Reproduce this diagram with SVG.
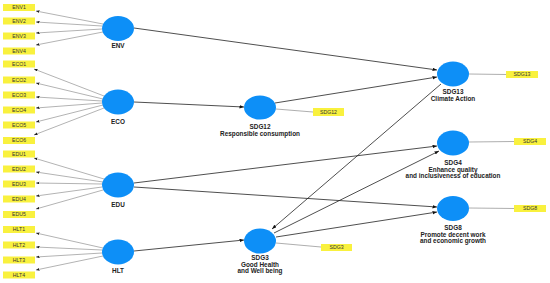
<svg xmlns="http://www.w3.org/2000/svg" width="550" height="283" viewBox="0 0 550 283">
<style>
.lat{fill:#0d8ff7}
.ind{fill:#f9f13e}
.it{font-family:"Liberation Sans",Arial,sans-serif;font-size:5.2px;fill:#333;text-anchor:middle}
.lb{font-family:"Liberation Sans",Arial,sans-serif;font-size:6.4px;font-weight:bold;fill:#222;text-anchor:middle}
.str{stroke:#222;stroke-width:0.8;fill:none;marker-end:url(#ah)}
.il{stroke:#666;stroke-width:0.5;fill:none;marker-end:url(#ahs)}
.ld{stroke:#777;stroke-width:0.6;fill:none}
</style>
<defs>
<marker id="ah" markerUnits="userSpaceOnUse" markerWidth="5" markerHeight="4" refX="4.5" refY="1.75" orient="auto"><path d="M0,0 L4.5,1.75 L0,3.5 z" fill="#111"/></marker>
<marker id="ahs" markerUnits="userSpaceOnUse" markerWidth="4" markerHeight="3" refX="3.5" refY="1.4" orient="auto"><path d="M0,0 L3.5,1.4 L0,2.8 z" fill="#222"/></marker>
</defs>
<rect width="550" height="283" fill="#fff"/>
<g id="connectors">
<line class="il" x1="103" y1="24" x2="36" y2="11"/>
<line class="il" x1="102" y1="26" x2="36" y2="22"/>
<line class="il" x1="102" y1="29" x2="36" y2="33"/>
<line class="il" x1="103" y1="32" x2="36" y2="45"/>
<line class="il" x1="104" y1="96" x2="34" y2="69"/>
<line class="il" x1="103" y1="99" x2="36" y2="83"/>
<line class="il" x1="102" y1="101" x2="36" y2="97"/>
<line class="il" x1="102" y1="103" x2="36" y2="108"/>
<line class="il" x1="103" y1="105" x2="36" y2="122"/>
<line class="il" x1="104" y1="108" x2="34" y2="135"/>
<line class="il" x1="104" y1="179" x2="34" y2="158"/>
<line class="il" x1="103" y1="182" x2="36" y2="172"/>
<line class="il" x1="102" y1="184" x2="36" y2="183"/>
<line class="il" x1="102" y1="187" x2="36" y2="196"/>
<line class="il" x1="103" y1="190" x2="36" y2="209"/>
<line class="il" x1="103" y1="248" x2="36" y2="233"/>
<line class="il" x1="102" y1="250" x2="36" y2="247"/>
<line class="il" x1="102" y1="253" x2="36" y2="257"/>
<line class="il" x1="103" y1="256" x2="36" y2="270"/>
<line class="str" x1="134" y1="28" x2="437" y2="70"/>
<line class="str" x1="275" y1="103" x2="437" y2="77"/>
<line class="str" x1="441" y1="84" x2="272" y2="229"/>
<line class="str" x1="134" y1="102" x2="244" y2="107"/>
<line class="str" x1="134" y1="183" x2="437" y2="146"/>
<line class="str" x1="274" y1="233" x2="439" y2="151"/>
<line class="str" x1="134" y1="187" x2="437" y2="207"/>
<line class="str" x1="276" y1="237" x2="437" y2="212"/>
<line class="str" x1="134" y1="251" x2="244" y2="240"/>
<line class="ld" x1="276" y1="109" x2="313" y2="112"/>
<line class="ld" x1="469" y1="74" x2="506" y2="74.5"/>
<line class="ld" x1="469" y1="142" x2="514" y2="141.5"/>
<line class="ld" x1="469" y1="208" x2="514" y2="208.5"/>
<line class="ld" x1="276" y1="243" x2="321" y2="247"/>
</g>
<g id="ENV1"><rect class="ind" x="3" y="4" width="32" height="7"/><text class="it" x="19" y="9.4">ENV1</text></g>
<g id="ENV2"><rect class="ind" x="3" y="17.5" width="32" height="7"/><text class="it" x="19" y="22.9">ENV2</text></g>
<g id="ENV3"><rect class="ind" x="3" y="32.5" width="32" height="7"/><text class="it" x="19" y="37.9">ENV3</text></g>
<g id="ENV4"><rect class="ind" x="3" y="47.5" width="32" height="7"/><text class="it" x="19" y="52.9">ENV4</text></g>
<g id="ECO1"><rect class="ind" x="3" y="60.5" width="32" height="7"/><text class="it" x="19" y="65.9">ECO1</text></g>
<g id="ECO2"><rect class="ind" x="3" y="76.5" width="32" height="7"/><text class="it" x="19" y="81.9">ECO2</text></g>
<g id="ECO3"><rect class="ind" x="3" y="91.5" width="32" height="7"/><text class="it" x="19" y="96.9">ECO3</text></g>
<g id="ECO4"><rect class="ind" x="3" y="106.5" width="32" height="7"/><text class="it" x="19" y="111.9">ECO4</text></g>
<g id="ECO5"><rect class="ind" x="3" y="121.5" width="32" height="7"/><text class="it" x="19" y="126.9">ECO5</text></g>
<g id="ECO6"><rect class="ind" x="3" y="137" width="32" height="7"/><text class="it" x="19" y="142.4">ECO6</text></g>
<g id="EDU1"><rect class="ind" x="3" y="150.5" width="32" height="7"/><text class="it" x="19" y="155.9">EDU1</text></g>
<g id="EDU2"><rect class="ind" x="3" y="165.5" width="32" height="7"/><text class="it" x="19" y="170.9">EDU2</text></g>
<g id="EDU3"><rect class="ind" x="3" y="180.5" width="32" height="7"/><text class="it" x="19" y="185.9">EDU3</text></g>
<g id="EDU4"><rect class="ind" x="3" y="195.5" width="32" height="7"/><text class="it" x="19" y="200.9">EDU4</text></g>
<g id="EDU5"><rect class="ind" x="3" y="211" width="32" height="7"/><text class="it" x="19" y="216.4">EDU5</text></g>
<g id="HLT1"><rect class="ind" x="3" y="226" width="32" height="7"/><text class="it" x="19" y="231.4">HLT1</text></g>
<g id="HLT2"><rect class="ind" x="3" y="241.5" width="32" height="7"/><text class="it" x="19" y="246.9">HLT2</text></g>
<g id="HLT3"><rect class="ind" x="3" y="256.5" width="32" height="7"/><text class="it" x="19" y="261.9">HLT3</text></g>
<g id="HLT4"><rect class="ind" x="3" y="271.5" width="32" height="7"/><text class="it" x="19" y="276.9">HLT4</text></g>
<g id="ENV"><ellipse class="lat" cx="118" cy="28.5" rx="16" ry="12.5"/><text class="lb" x="118" y="48">ENV</text></g>
<g id="ECO"><ellipse class="lat" cx="118" cy="102" rx="16" ry="12.5"/><text class="lb" x="118" y="124">ECO</text></g>
<g id="EDU"><ellipse class="lat" cx="118" cy="185" rx="16" ry="12.5"/><text class="lb" x="118" y="207">EDU</text></g>
<g id="HLT"><ellipse class="lat" cx="118" cy="252" rx="16" ry="12.5"/><text class="lb" x="118" y="273">HLT</text></g>
<g id="SDG12"><ellipse class="lat" cx="260" cy="107.5" rx="16" ry="12"/><text class="lb" x="260" y="129">SDG12</text><text class="lb" x="260" y="135.5">Responsible consumption</text></g>
<g id="SDG12i"><rect class="ind" x="313" y="108" width="31" height="8"/><text class="it" x="328.5" y="113.9">SDG12</text></g>
<g id="SDG13"><ellipse class="lat" cx="453" cy="74" rx="16" ry="12.5"/><text class="lb" x="453" y="94">SDG13</text><text class="lb" x="453" y="100.5">Climate Action</text></g>
<g id="SDG13i"><rect class="ind" x="506" y="71" width="32" height="7"/><text class="it" x="522" y="76.4">SDG13</text></g>
<g id="SDG4"><ellipse class="lat" cx="453" cy="143" rx="16" ry="12.5"/><text class="lb" x="453" y="165">SDG4</text><text class="lb" x="453" y="171.5">Enhance quality</text><text class="lb" x="453" y="178">and inclusiveness of education</text></g>
<g id="SDG4i"><rect class="ind" x="514" y="138" width="32" height="7"/><text class="it" x="530" y="143.4">SDG4</text></g>
<g id="SDG8"><ellipse class="lat" cx="453" cy="208.5" rx="16" ry="12.5"/><text class="lb" x="453" y="230">SDG8</text><text class="lb" x="453" y="236.5">Promote decent work</text><text class="lb" x="453" y="243">and economic growth</text></g>
<g id="SDG8i"><rect class="ind" x="514" y="205" width="32" height="7"/><text class="it" x="530" y="210.4">SDG8</text></g>
<g id="SDG3"><ellipse class="lat" cx="260" cy="241" rx="16" ry="12.5"/><text class="lb" x="260" y="260">SDG3</text><text class="lb" x="260" y="266.5">Good Health</text><text class="lb" x="260" y="273">and Well being</text></g>
<g id="SDG3i"><rect class="ind" x="321" y="244" width="31" height="7"/><text class="it" x="336.5" y="249.4">SDG3</text></g>
</svg>
